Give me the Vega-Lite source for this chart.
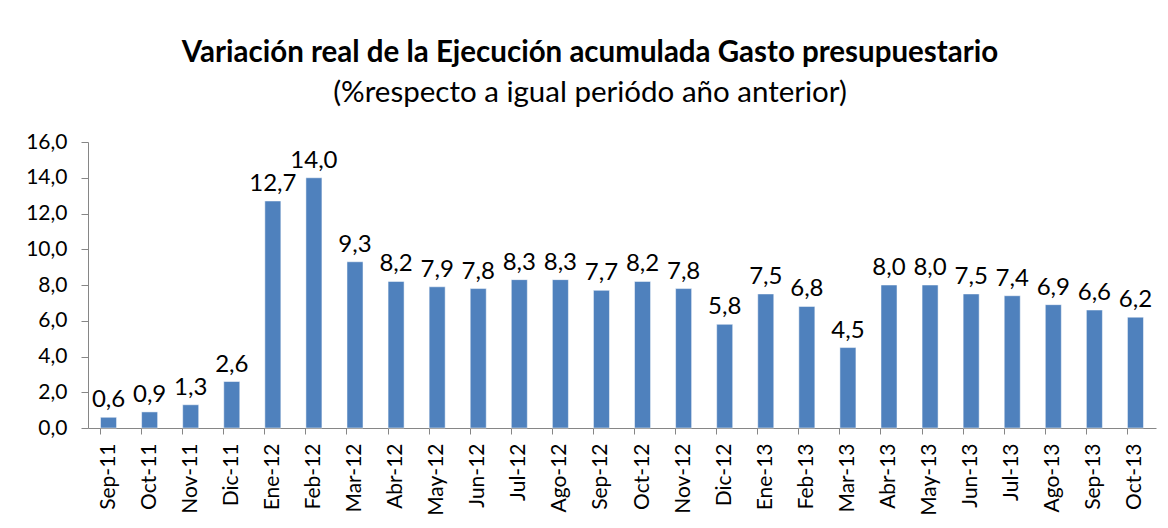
{
  "$schema": "https://vega.github.io/schema/vega-lite/v6.json",
  "width": 1068,
  "height": 286,
  "autosize": {"type": "none"},
  "padding": {"left": 88, "top": 142, "right": 12, "bottom": 100},
  "background": "white",
  "config": {
    "locale": {"number": {"decimal": ",", "thousands": ".", "grouping": [3], "currency": ["", " €"]}},
    "font": "Lato",
    "view": {"stroke": null}
  },
  "title": {
    "text": "Variación real de la Ejecución acumulada Gasto presupuestario",
    "subtitle": "(%respecto a igual periódo año anterior)",
    "font": "Lato",
    "fontSize": 29.5,
    "fontWeight": "bold",
    "color": "black",
    "subtitleFont": "Lato",
    "subtitleFontSize": 29.5,
    "subtitleColor": "black",
    "subtitlePadding": 10,
    "anchor": "middle",
    "dx": -32,
    "offset": 23
  },
  "data": {
    "values": [
      {"mes": "Sep-11", "v": 0.6},
      {"mes": "Oct-11", "v": 0.9},
      {"mes": "Nov-11", "v": 1.3},
      {"mes": "Dic-11", "v": 2.6},
      {"mes": "Ene-12", "v": 12.7},
      {"mes": "Feb-12", "v": 14.0},
      {"mes": "Mar-12", "v": 9.3},
      {"mes": "Abr-12", "v": 8.2},
      {"mes": "May-12", "v": 7.9},
      {"mes": "Jun-12", "v": 7.8},
      {"mes": "Jul-12", "v": 8.3},
      {"mes": "Ago-12", "v": 8.3},
      {"mes": "Sep-12", "v": 7.7},
      {"mes": "Oct-12", "v": 8.2},
      {"mes": "Nov-12", "v": 7.8},
      {"mes": "Dic-12", "v": 5.8},
      {"mes": "Ene-13", "v": 7.5},
      {"mes": "Feb-13", "v": 6.8},
      {"mes": "Mar-13", "v": 4.5},
      {"mes": "Abr-13", "v": 8.0},
      {"mes": "May-13", "v": 8.0},
      {"mes": "Jun-13", "v": 7.5},
      {"mes": "Jul-13", "v": 7.4},
      {"mes": "Ago-13", "v": 6.9},
      {"mes": "Sep-13", "v": 6.6},
      {"mes": "Oct-13", "v": 6.2}
    ]
  },
  "encoding": {
    "x": {
      "field": "mes",
      "type": "nominal",
      "sort": null,
      "scale": {"paddingInner": 0.61, "paddingOuter": 0.305},
      "axis": {
        "title": null,
        "labelAngle": -90,
        "labelAlign": "right",
        "labelBaseline": "middle",
        "labelFont": "Lato",
        "labelFontSize": 21,
        "labelColor": "black",
        "labelPadding": 9,
        "tickSize": 6,
        "tickColor": "#868686",
        "domainColor": "#868686",
        "bandPosition": 0
      }
    },
    "y": {
      "field": "v",
      "type": "quantitative",
      "scale": {"domain": [0, 16]},
      "axis": {
        "title": null,
        "values": [0, 2, 4, 6, 8, 10, 12, 14, 16],
        "format": ".1f",
        "grid": false,
        "labelFont": "Lato",
        "labelFontSize": 21,
        "labelColor": "black",
        "labelPadding": 14,
        "tickSize": 7,
        "tickColor": "#868686",
        "domainColor": "#868686"
      }
    }
  },
  "layer": [
    {"mark": {"type": "bar", "color": "#4F81BD", "stroke": "#ffffff", "strokeWidth": 0.5}},
    {
      "mark": {"type": "text", "baseline": "bottom", "dy": -5, "fontSize": 24, "font": "Lato", "color": "black"},
      "encoding": {"text": {"field": "v", "type": "quantitative", "format": ".1f"}}
    }
  ]
}
